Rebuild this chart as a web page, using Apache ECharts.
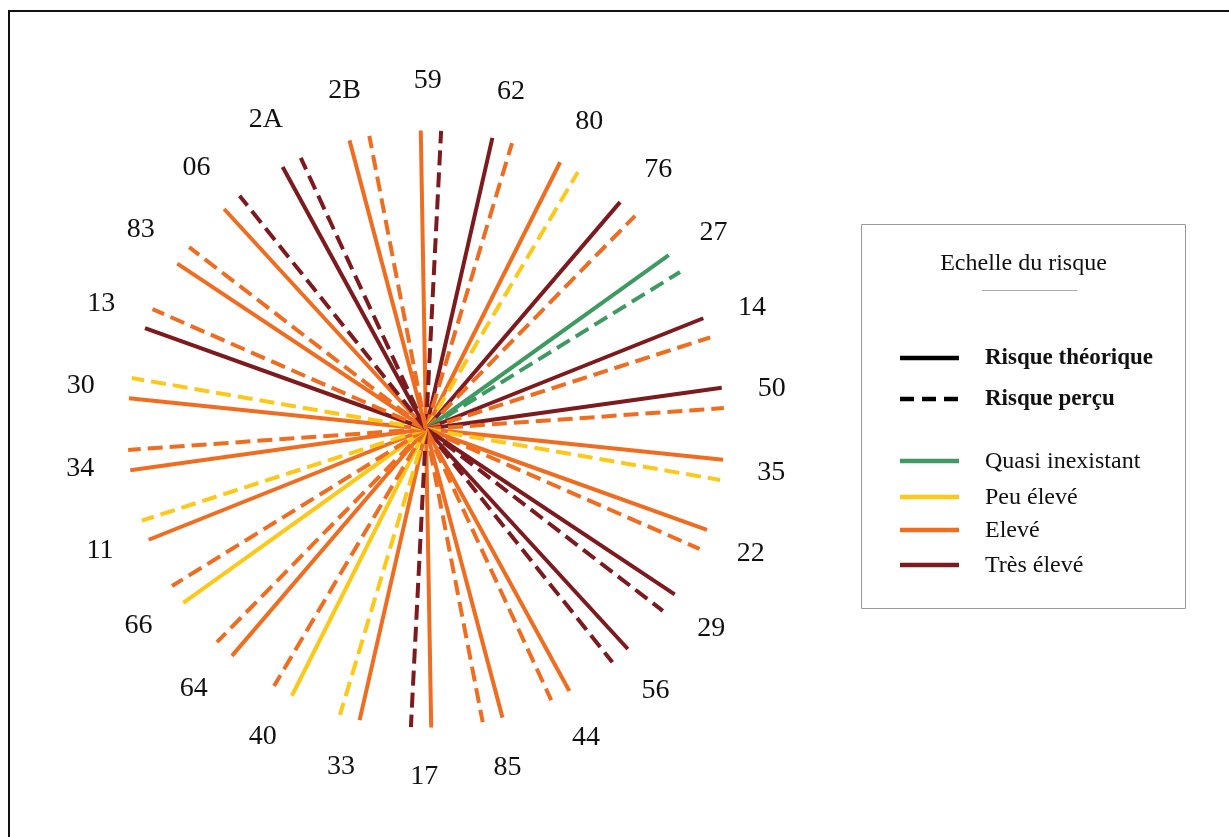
<!DOCTYPE html>
<html>
<head>
<meta charset="utf-8">
<script src="https://cdn.jsdelivr.net/npm/echarts@6/dist/echarts.min.js"></script>
<style>
  html, body { margin: 0; padding: 0; background: #fff; }
  #chart { width: 1229px; height: 837px; }
</style>
</head>
<body>
<div id="chart"></div>
<script>
// ---- Data ----
const categories = ['59','62','80','76','27','14','50','35','22','29','56','44','85','17','33','40','64','66','11','34','30','13','83','06','2A','2B'];
// Risk level: 1 = Quasi inexistant, 2 = Peu élevé, 3 = Elevé, 4 = Très élevé
const theoretical = [3,4,3,4,1,4,4,3,3,4,4,3,3,3,3,2,3,2,3,3,3,4,3,3,4,3];
const perceived   = [4,3,2,3,1,3,3,2,3,4,4,3,3,4,2,3,3,3,2,3,2,3,3,4,4,3];
const levelNames  = ['Quasi inexistant','Peu élevé','Elevé','Très élevé'];
const styleNames  = ['Risque théorique','Risque perçu'];
const legendTitle = 'Echelle du risque';

// ---- Styles ----
const levelColors = ['#3f9a62','#fcc81a','#ef6d20','#7c1a1d'];
const FONT = '"Liberation Serif", "DejaVu Serif", serif';
const TEXT_COLOR = '#111111';
const LINE_LEN = 0.858;      // fraction of label radius
const SOLID_OFF = -1.0;      // degrees
const DASH_OFF = 2.9;        // degrees
const LABEL_OFF = 0.3;       // degrees
const DASH = [15, 7];
const step = 360 / categories.length;

const series = [];
categories.forEach((c, i) => {
  const a = i * step;
  [[theoretical[i], SOLID_OFF, 'solid'], [perceived[i], DASH_OFF, DASH]].forEach(([lvl, off, type]) => {
    series.push({
      type: 'line',
      coordinateSystem: 'polar',
      data: [[0, a + off], [LINE_LEN, a + off]],
      showSymbol: false,
      symbol: 'none',
      silent: true,
      animation: false,
      clip: false,
      lineStyle: { color: levelColors[lvl - 1], width: 4, type: type, cap: 'butt' }
    });
  });
});
series.push({
  type: 'scatter',
  coordinateSystem: 'polar',
  data: categories.map((c, i) => [1, i * step + LABEL_OFF]),
  symbolSize: 0,
  silent: true,
  animation: false,
  clip: false,
  itemStyle: { opacity: 1 },
  label: {
    show: true,
    position: 'inside',
    formatter: p => categories[p.dataIndex],
    fontFamily: FONT,
    fontSize: 28,
    color: TEXT_COLOR,
    opacity: 1,
    textBorderWidth: 0
  }
});

// ---- Legend (graphic) ----
const LX0 = 900, LX1 = 959, TX = 985;
const graphic = [
  { type: 'polyline', shape: { points: [[9, 837], [9, 11], [1229, 11]] }, style: { stroke: '#111', lineWidth: 2, fill: null } },
  { type: 'rect', shape: { x: 861.5, y: 224.5, width: 324, height: 384 }, style: { stroke: '#9a9a9a', lineWidth: 1, fill: '#fff' } },
  { type: 'text', x: 1023.5, y: 264, style: { text: legendTitle, font: '24px ' + FONT, fill: TEXT_COLOR, align: 'center', verticalAlign: 'middle' } },
  { type: 'line', shape: { x1: 982, y1: 290.5, x2: 1077, y2: 290.5 }, style: { stroke: '#aaaaaa', lineWidth: 1 } }
];
const styleY = [358, 399];
styleNames.forEach((n, k) => {
  graphic.push({ type: 'line', shape: { x1: LX0, y1: styleY[k], x2: LX1, y2: styleY[k] },
    style: { stroke: '#000', lineWidth: 4.5, lineDash: k === 0 ? null : [14, 8] } });
  graphic.push({ type: 'text', x: TX, y: styleY[k], style: { text: n, font: 'bold 23px ' + FONT, fill: '#111', align: 'left', verticalAlign: 'middle' } });
});
const levelY = [461, 497, 530, 565];
levelNames.forEach((n, k) => {
  graphic.push({ type: 'line', shape: { x1: LX0, y1: levelY[k], x2: LX1, y2: levelY[k] },
    style: { stroke: levelColors[k], lineWidth: 4.5 } });
  graphic.push({ type: 'text', x: TX, y: levelY[k] + 1, style: { text: n, font: '24px ' + FONT, fill: TEXT_COLOR, align: 'left', verticalAlign: 'middle' } });
});

const chart = echarts.init(document.getElementById('chart'), null, { renderer: 'canvas' });
chart.setOption({
  animation: false,
  backgroundColor: '#fff',
  polar: { center: [426, 429], radius: 348 },
  angleAxis: { type: 'value', min: 0, max: 360, startAngle: 90, clockwise: true, show: false },
  radiusAxis: { type: 'value', min: 0, max: 1, show: false },
  series: series,
  graphic: graphic
});
</script>
</body>
</html>
